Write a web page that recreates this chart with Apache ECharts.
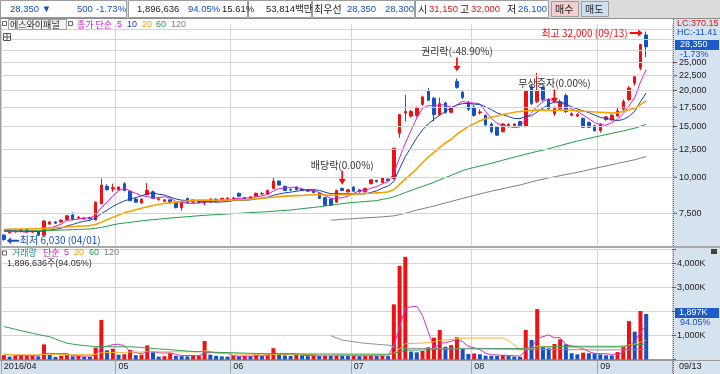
<!DOCTYPE html>
<html><head><meta charset="utf-8">
<script src="https://cdn.jsdelivr.net/npm/echarts/dist/echarts.min.js"></script>
<style>html,body{margin:0;padding:0;background:#fff}#c{width:720px;height:374px}</style>
</head><body><div id="c"></div>
<script>
// ---------- DATA ----------
const tradeDays = [
  ['2016/04', [1,4,5,6,7,8,11,12,14,15,18,19,20,21,22,25,26,27,28,29]],
  ['2016/05', [2,3,4,9,10,11,12,13,16,17,18,19,20,23,24,25,26,27,30,31]],
  ['2016/06', [1,2,3,7,8,9,10,13,14,15,16,17,20,21,22,23,24,27,28,29,30]],
  ['2016/07', [1,4,5,6,7,8,11,12,13,14,15,18,19,20,21,22,25,26,27,28,29]],
  ['2016/08', [1,2,3,4,5,8,9,10,11,12,16,17,18,19,22,23,24,25,26,29,30,31]],
  ['2016/09', [1,2,5,6,7,8,9,12,13]]
];
const opens = [6300,6420,6480,6500,6600,6450,6480,6300,6880,7000, 7000,7120,7400,7220,7180,7250,7110,8100,9300,9100,
 9050,9500,8950,8400,8150,8700,8900,8380,8250,8350, 8150,7850,8450,8200,8300,8150,8200,8400,8350,8420,
 8400,8800,8500,8400,8600,8750,8750,9150,9700,9300, 9080,9250,9100,9050,9000,8800,8500,8400,8200,9150,
 8900,9250,9050,8900,9500,9750,9600,9850,9900,14200, 16700,16300,16400,17900,20000,18800,16500,18100,16800,21500,
 19700,18100,17500,16750,16400,15300,14900,14400,14950,15100, 15600,15000,20600,18300,20500,18600,16600,17300,19200,16400,
 16300,16000,15500,15100,14500,15850,15800,16300,17200,18600, 21200,23900,31150];
const highs = [6350,6650,6560,6620,6650,6560,6500,7110,7050,7050, 7150,7400,7550,7350,7280,7300,8250,9900,9450,9500,
 9300,9600,9000,8500,8450,9550,9000,8550,8400,8400, 8200,8200,8500,8350,8350,8350,8450,8450,8500,8550,
 8550,8850,8550,8600,8850,8900,9050,10000,9750,9350, 9150,9300,9150,9100,9050,8850,8550,8450,9050,9200,
 9100,9300,9100,9200,9850,9800,10000,9900,12650,16600, 19300,17100,17600,19200,20400,19000,18900,18300,17600,22000,
 20000,18400,17800,17200,16500,15500,15000,15400,15400,15400, 15700,20000,21000,23000,20700,18700,17600,18600,19500,16800,
 16700,16100,15600,15200,15400,16300,16600,17500,18600,20700, 22500,29000,32000];
const lows = [6030,6380,6420,6450,6450,6420,6250,6280,6830,6900, 6950,7080,7100,7150,7120,7150,7100,8050,9000,8900,
 9000,8950,8250,8150,8100,8650,8400,8300,8200,8100, 7800,7650,8100,8150,8150,8000,8150,8200,8300,8380,
 8350,8550,8300,8350,8550,8700,8700,9100,9350,8950, 8950,9000,8950,8900,8800,8400,7950,7950,8150,8950,
 8850,8900,8850,8850,9450,9600,9550,9700,9850,13700, 15600,16100,16200,17700,18400,15600,16300,16600,16700,20300,
 18700,17000,16200,16500,15000,14200,13900,14300,14900,15000, 14900,14900,17800,18100,18300,17100,16300,17200,16700,16300,
 16200,14800,14800,14400,14300,15700,15700,16200,17000,18400, 20800,23500,26100];
const closes = [6080,6560,6520,6580,6480,6520,6300,7050,7000,6930, 7100,7350,7150,7260,7220,7180,8200,9400,9050,9200,
 9250,9000,8300,8200,8400,9000,8450,8420,8350,8150, 7850,8150,8150,8300,8180,8200,8400,8250,8450,8460,
 8480,8600,8350,8550,8800,8790,9000,9700,9400,9000, 9030,9050,9000,8950,8850,8450,8000,8000,9000,9000,
 9050,8950,8900,9150,9800,9650,9950,9750,12600,16500, 16900,16900,17400,19000,18500,16500,18000,16800,17400,20500,
 18900,17200,16400,16850,15200,14400,14000,15300,15250,15300, 15000,19900,18000,19900,18600,17300,17300,18300,16900,16600,
 16500,14900,14900,14500,15300,16200,16400,17000,18300,20400, 22300,28850,28350];
const ma5 = [6500,6480,6470,6480,6440,6530,6480,6590,6670,6760, 6880,7090,7120,7170,7220,7230,7400,7850,8210,8610,
 8980,9180,8960,8790,8630,8580,8470,8500,8560,8470, 8240,8190,8130,8120,8130,8200,8250,8270,8300,8350,
 8410,8450,8470,8490,8560,8620,8710,8970,9140,9180, 9230,9240,9100,9010,8980,8860,8650,8450,8470,8490,
 8610,8800,8980,9010,9170,9290,9490,9660,10350,11690, 13140,14530,16060,17340,17740,17660,17880,17760,17440,17840,
 18320,18160,18080,17970,16910,16010,15370,15150,15040,14860, 14970,15950,16690,17620,18280,18740,18220,18280,17680,17280,
 16920,16440,15960,15480,15220,15160,15460,15880,16640,17660, 18880,21370,23640];
const ma10 = [6550,6530,6510,6500,6490,6490,6480,6530,6560,6600, 6660,6780,6860,6960,7040,7090,7240,7480,7690,7920,
 8110,8280,8400,8500,8620,8780,8830,8730,8680,8540, 8410,8330,8310,8340,8300,8220,8220,8200,8210,8240,
 8300,8320,8320,8350,8410,8470,8530,8660,8760,8830, 8880,8940,9010,9050,9060,9010,8880,8770,8770,8770,
 8770,8760,8750,8760,8860,8970,9170,9320,9680,10700, 11800,12700,13700,14600,15300,15900,16400,16910,17400,17800,
 18000,18030,17930,17870,17540,17160,16710,16480,16250,15990, 15970,16260,16340,16850,17360,17900,18240,18230,17950,17560,
 17250,16990,16760,16440,16140,15990,15860,15720,15860,16260, 16960,18280,19600];
const ma20 = [6600,6600,6610,6620,6620,6630,6630,6650,6670,6690, 6700,6720,6740,6760,6780,6800,6860,6990,7120,7260,
 7400,7530,7620,7720,7810,7900,7980,8050,8110,8170, 8200,8240,8270,8300,8330,8330,8330,8330,8340,8340,
 8340,8350,8350,8390,8420,8460,8490,8530,8570,8600, 8620,8640,8650,8680,8700,8700,8680,8660,8680,8700,
 8720,8740,8760,8780,8800,8830,8860,8900,9050,9450, 9850,10250,10700,11250,11750,12200,12700,13150,13550,14100,
 14550,15000,15350,15700,15950,16150,16300,16500,16650,16800, 16900,17000,17050,17100,17100,17050,17050,17100,17100,17050,
 17000,16950,16900,16850,16800,16750,16700,16750,16900,17100, 17400,17850,18400];
const ma60 = [6500,6505,6510,6512,6516,6520,6528,6536,6544,6552, 6560,6572,6584,6596,6608,6620,6660,6700,6770,6840,
 6900,6940,6980,7020,7060,7100,7130,7160,7190,7220, 7250,7275,7300,7330,7355,7380,7400,7420,7440,7460,
 7480,7500,7520,7540,7560,7580,7600,7625,7650,7675, 7700,7740,7780,7820,7860,7900,7950,8000,8050,8100,
 8150,8180,8210,8240,8270,8300,8380,8450,8560,8700, 8850,9000,9150,9300,9450,9600,9800,9980,10150,10350,
 10550,10700,10820,10940,11060,11180,11320,11460,11600,11740, 11880,12020,12160,12300,12420,12560,12720,12880,13040,13200,
 13360,13500,13640,13780,13920,14060,14200,14340,14480,14640, 14800,15020,15250];
const ma120 = Array(57).fill(null).concat([7100,7120,7145,
 7170,7190,7210,7230,7250,7270,7295,7320,7350,7420, 7500,7600,7700,7780,7860,7950,8050,8150,8250,8350,
 8450,8550,8650,8750,8850,8950,9040,9130,9220,9310, 9400,9520,9640,9750,9850,9950,10040,10130,10220,10310,
 10400,10510,10620,10730,10840,10950,11060,11170,11280,11390, 11500,11650,11800]);
// volume in thousand shares
const volumes = [180,120,150,160,165,170,130,630,190,110, 160,180,130,150,120,110,500,1650,380,450,
 200,220,400,180,200,590,300,120,140,260, 150,140,130,150,170,770,200,150,130,120,
 160,130,150,140,180,150,215,470,200,170, 150,190,170,140,160,150,180,160,190,160,
 150,170,140,160,180,150,170,140,2300,3900, 4280,330,300,355,510,910,1230,530,600,925,
 440,230,250,220,160,155,150,190,150,120, 110,1230,810,2100,510,465,645,840,630,260,
 215,285,260,250,215,175,170,310,530,1600, 1160,2020,1896.636];
const vma5 = [230,200,180,160,155,153,155,251,257,246, 244,254,154,146,148,138,202,506,552,618,
 636,580,330,290,240,318,334,278,270,282, 212,162,164,166,148,272,284,288,284,274,
 152,138,140,140,152,150,167,231,243,241, 241,236,176,164,162,156,160,158,168,168,
 168,166,162,156,160,160,160,158,588,1332, 2158,2190,2222,1833,1155,481,661,707,757,839,
 745,545,489,413,260,203,187,175,169,153, 144,360,484,874,952,1023,906,912,618,568,
 518,446,330,254,245,237,214,224,280,557, 754,1124,1441];
const vma20 = [210,205,200,200,198,196,194,215,216,212, 210,210,208,206,204,200,215,280,290,292,
 293,298,310,311,313,334,343,318,316,323, 322,320,320,320,322,355,340,265,253,236,
 234,230,218,216,215,193,189,206,209,204, 204,207,209,208,207,176,175,175,178,180,
 180,182,182,183,183,183,181,164,269,456, 662,669,676,686,703,741,794,812,833,871,
 886,889,893,896,895,896,895,897,789,600, 392,437,462,549,549,527,541,537,530,497,
 486,489,494,497,500,501,502,508,527,601, 643,735,804];
const vma60 = [1370,1320,1260,1200,1150,1090,1040,990,950,850, 760,680,640,610,580,560,540,535,532,530,
 530,530,530,520,500,480,460,440,425,410, 390,370,350,335,325,318,310,300,292,285,
 280,272,265,258,252,246,242,240,238,236, 235,234,233,232,231,230,229,228,227,226,
 225,224,223,222,222,221,220,218,255,318, 388,390,392,395,400,412,430,436,443,455,
 460,461,462,462,461,460,459,459,458,457, 455,472,483,515,520,525,533,544,551,552,
 552,553,553,553,552,551,550,552,557,580, 596,625,655];
const vma120 = Array(57).fill(null).concat([990,900,810,
 775,740,705,675,655,635,615,600,530,470, 465,463,461,459,457,455,453,451,449,447,
 445,443,441,440,438,436,434,432,430,428, 426,424,422,420,418,416,414,412,410,408,
 406,404,402,400,400,400,400,400,402,405, 408,412,416]);
const priceTicks = [7500,10000,12500,15000,17500,20000,22500,25000,27500,30000,32500];

// ---------- BUILD ----------
const dates = [];
tradeDays.forEach(([m, ds]) => ds.forEach(d => dates.push(m + '/' + String(d).padStart(2, '0'))));
const cats = dates.concat(['pad1', 'pad2', 'pad3', 'pad4']);
const monthStarts = [];
dates.forEach((d, i) => { if (i === 0 || d.slice(0, 7) !== dates[i - 1].slice(0, 7)) monthStarts.push(i); });
const isMonthStart = (i) => monthStarts.indexOf(i) >= 0;

const RED = '#ee1111', BLUE = '#1450c8';
const FN = '"Liberation Sans","Noto Sans CJK KR",sans-serif';
const FK = '"Noto Sans CJK KR","Liberation Sans",sans-serif';
const fmt = v => Number(v).toLocaleString('en-US');

const candleData = opens.map((o, i) => [o, closes[i], lows[i], highs[i]]);
const volData = volumes.map((v, i) => ({
  value: v,
  itemStyle: { color: (i === 0 || v >= volumes[i - 1]) ? RED : BLUE }
}));

const DOWN = 'path://M3,0L5,0L5,9L8,9L4,15L0,9L3,9Z';
const RIGHTA = 'path://M0,2.5L9,2.5L9,0L14,3.5L9,7L9,4.5L0,4.5Z';
const LEFTA = 'path://M14,2.5L5,2.5L5,0L0,3.5L5,7L5,4.5L14,4.5Z';

function T(x, y, text, fill, size, family) {
  return { type: 'text', x: x, y: y, silent: true, z: 100,
    style: { text: text, fill: fill, font: (size || 9) + 'px ' + (family || FN),
      textAlign: 'left', textVerticalAlign: 'middle', align: 'left', verticalAlign: 'middle' } };
}
function R(x, y, w, h, fill, stroke, z) {
  return { type: 'rect', silent: true, z: (z == null ? -10 : z), shape: { x: x, y: y, width: w, height: h },
    style: { fill: fill, stroke: stroke || null, lineWidth: 1 } };
}
function L(x1, y1, x2, y2, stroke, dash, z) {
  return { type: 'line', silent: true, z: (z == null ? 5 : z), shape: { x1: x1, y1: y1, x2: x2, y2: y2 },
    style: { stroke: stroke, lineWidth: 1, lineDash: dash || null } };
}

const TB = 9.5;
const graphics = [
  // toolbar
  R(0, 0, 720, 18, '#dcdcdc', null, -10),
  R(0.5, 0.5, 126, 17, '#fff', '#9c9c9c', -9),
  R(128.5, 0.5, 119, 17, '#fff', '#9c9c9c', -9),
  R(248.5, 0.5, 63, 17, '#fff', '#9c9c9c', -9),
  R(312.5, 0.5, 102, 17, '#fff', '#9c9c9c', -9),
  R(415.5, 0.5, 133, 17, '#fff', '#9c9c9c', -9),
  R(551.5, 1.5, 27, 15, '#f5cfcf', '#9c9c9c', -9),
  R(581.5, 1.5, 27, 15, '#cfdff3', '#9c9c9c', -9),
  L(0, 18.5, 720, 18.5, '#8c8c8c', null, 6),
  T(10, 9, '28,350 ▼', BLUE, TB), 
  T(77, 9, '500', BLUE, TB), T(96, 9, '-1.73%', BLUE, TB),
  T(137, 9, '1,896,636', '#222', TB), T(188, 9, '94.05%', BLUE, TB), T(222, 9, '15.61%', '#222', TB),
  T(266, 9, '53,814백만', '#222', TB),
  T(314, 9, '최우선', '#222', 10, FK), T(347, 9, '28,350', BLUE, TB), T(385, 9, '28,300', BLUE, TB),
  T(418, 9, '시', '#222', 10, FK), T(429, 9, '31,150', RED, TB),
  T(460, 9, '고', '#222', 10, FK), T(471, 9, '32,000', RED, TB),
  T(507, 9, '저', '#222', 10, FK), T(518, 9, '26,100', BLUE, TB),
  T(555, 9, '매수', '#222', 10, FK), T(585, 9, '매도', '#222', 10, FK),
  // right panel & strip backgrounds
  R(673, 19, 47, 341, '#d6e2ee', null, -10),
  R(0, 360, 720, 14, '#d6e2ee', null, -10),
  L(673.5, 19, 673.5, 374, '#666', [1, 1], 6),
  R(0, 246, 720, 2, '#a9a9a9', null, 50),
  L(0, 360.5, 720, 360.5, '#9a9a9a', null, 6),
  L(0.5, 19, 0.5, 360, '#9a9a9a', null, 6),
  // price header
  R(2.5, 21.5, 4, 4, '#fff', '#666', 90),
  R(8.5, 19.5, 58, 10, '#f3f3f3', '#a0a0a0', 90),
  T(10, 24.5, '에스와이패널', '#222', 9, FK),
  R(68.5, 21.5, 4, 4, '#fff', '#666', 90),
  T(77, 24.5, '종가 단순', '#d018c0', 9, FK),
  T(117, 24.5, '5', '#d018c0', 9), T(127, 24.5, '10', '#1c3fb0', 9),
  T(142, 24.5, '20', '#f0a000', 9), T(156, 24.5, '60', '#1e9e44', 9), T(171, 24.5, '120', '#808080', 9),
  R(3.5, 33.5, 7, 7, '#fff', '#555', 90),
  L(3.5, 37, 10.5, 37, '#555', null, 91), L(7, 33.5, 7, 40.5, '#555', null, 91),
  // right price panel texts
  T(677, 24, 'LC:370.15', RED, 9),
  T(677, 33, 'HC:-11.41', BLUE, 9),
  R(675, 40, 44, 10, '#1d5bc9', null, 95),
  T(680, 45, '28,350', '#fff', 9),
  T(680, 54.5, '-1.73%', BLUE, 9),
  // volume header
  R(2.5, 251, 4, 4, '#fff', '#666', 90),
  T(12, 253, '거래량', '#2b8c8c', 9, FK),
  T(43, 253, '단순', '#d018c0', 9, FK),
  T(64, 253, '5', '#d018c0', 9), T(74, 253, '20', '#f0a000', 9),
  T(89, 253, '60', '#1e9e44', 9), T(104, 253, '120', '#808080', 9),
  T(7, 263.5, '1,896,636주(94.05%)', '#333', 9),
  R(711, 249, 6, 5, '#444', null, 95),
  // volume box
  R(675, 308, 44, 10, '#1d5bc9', null, 95),
  T(679, 313, '1,897K', '#fff', 9),
  T(680, 322.5, '94.05%', BLUE, 9),
  // strip right
  T(679, 367, '09/13', '#222', 9)
];

const lineSeries = (name, data, color, width, xi, yi) => ({
  name: name, type: 'line', data: data, xAxisIndex: xi, yAxisIndex: yi, symbol: 'none', silent: true,
  lineStyle: { color: color, width: width }, z: 4, connectNulls: false
});

const option = {
  animation: false,
  backgroundColor: '#ffffff',
  textStyle: { fontFamily: FN },
  grid: [
    { left: 1, top: 24, width: 671, height: 221.5, outerBoundsMode: 'none', containLabel: false },
    { left: 1, top: 249.1, width: 671, height: 110.4, outerBoundsMode: 'none', containLabel: false }
  ],
  xAxis: [
    { type: 'category', gridIndex: 0, data: cats, boundaryGap: true,
      axisLine: { show: false }, axisTick: { show: false }, axisLabel: { show: false },
      splitLine: { show: true, interval: (i) => isMonthStart(i), lineStyle: { color: '#d4d4d4', width: 1 } } },
    { type: 'category', gridIndex: 1, data: cats, boundaryGap: true,
      axisLine: { show: true, lineStyle: { color: '#9a9a9a' } },
      axisTick: { show: true, interval: (i) => isMonthStart(i), length: 14, lineStyle: { color: '#a0a0a0' } },
      axisLabel: { show: true, interval: (i) => isMonthStart(i), align: 'left', margin: 3,
        fontSize: 9, color: '#222', fontFamily: FN,
        formatter: (v, i) => i === 0 ? v.slice(0, 7) : v.slice(5, 7) },
      splitLine: { show: true, interval: (i) => isMonthStart(i), lineStyle: { color: '#d4d4d4', width: 1 } } }
  ],
  yAxis: [
    { type: 'log', logBase: 10, gridIndex: 0, min: 5800, max: 34000, position: 'right',
      axisLine: { show: false }, axisTick: { show: false }, axisLabel: { show: false }, splitLine: { show: false } },
    { type: 'value', gridIndex: 1, min: 0, max: 4600, interval: 1000, position: 'right',
      axisLine: { show: false },
      axisTick: { show: true, length: 4, lineStyle: { color: '#555' } },
      axisLabel: { margin: 5, fontSize: 9, color: '#222', fontFamily: FN,
        formatter: v => (v === 0 || v === 2000 || v % 1000 !== 0) ? '' : fmt(v) + 'K' },
      splitLine: { show: true, lineStyle: { color: '#d4d4d4' } } }
  ],
  graphic: { elements: graphics },
  series: [
    { name: 'grid', type: 'line', data: closes, xAxisIndex: 0, yAxisIndex: 0, symbol: 'none', silent: true,
      lineStyle: { opacity: 0 }, z: 1,
      markLine: { silent: true, symbol: ['none', 'none'], animation: false,
        lineStyle: { color: '#d4d4d4', width: 1, type: 'solid' },
        label: { show: true, position: 'end', distance: 1,
          formatter: p => '{t|}{v|' + fmt(p.value) + '}',
          rich: { t: { width: 4, height: 1, backgroundColor: '#555' },
                  v: { padding: [0, 0, 0, 2], fontSize: 9, color: '#222', fontFamily: FN } } },
        emphasis: { disabled: true },
        data: priceTicks.map(v => ({ yAxis: v, label: { show: v <= 25000 } })) } },
    { name: 'price', type: 'candlestick', data: candleData, xAxisIndex: 0, yAxisIndex: 0, z: 3,
      barWidth: 3,
      itemStyle: { color: RED, color0: BLUE, borderColor: RED, borderColor0: BLUE, borderWidth: 1 },
      markPoint: { animation: false, silent: true,
        label: { fontFamily: FK, fontSize: 10, color: '#333' },
        data: [
          { coord: [cats[59], highs[59]], symbol: DOWN, symbolSize: [7, 14], symbolOffset: [0, -10],
            itemStyle: { color: RED }, label: { show: true, position: 'top', distance: 1, formatter: '배당락(0.00%)' } },
          { coord: [cats[79], highs[79]], symbol: DOWN, symbolSize: [7, 14], symbolOffset: [0, -14],
            itemStyle: { color: RED }, label: { show: true, position: 'top', distance: 1, formatter: '권리락(-48.90%)' } },
          { coord: [cats[96], highs[96]], symbol: DOWN, symbolSize: [7, 14], symbolOffset: [0, -10],
            itemStyle: { color: RED }, label: { show: true, position: 'top', distance: 1, formatter: '무상증자(0.00%)' } },
          { coord: [cats[112], highs[112]], symbol: RIGHTA, symbolSize: [13, 7], symbolOffset: [-10, 1.5],
            itemStyle: { color: RED }, label: { show: true, position: 'left', distance: 2, color: RED,
              formatter: '최고 ' + fmt(highs[112]) + ' (09/13)' } },
          { coord: [cats[0], lows[0]], symbol: LEFTA, symbolSize: [12, 7], symbolOffset: [9, 0],
            itemStyle: { color: BLUE }, label: { show: true, position: 'right', distance: 1, color: BLUE,
              formatter: '최저 ' + fmt(lows[0]) + ' (04/01)' } }
        ] } },
    lineSeries('MA5', ma5, '#dd1ecc', 1, 0, 0),
    lineSeries('MA10', ma10, '#1c3fb0', 1, 0, 0),
    lineSeries('MA20', ma20, '#f3a200', 1.6, 0, 0),
    lineSeries('MA60', ma60, '#1e9e44', 1, 0, 0),
    lineSeries('MA120', ma120, '#7f7f7f', 1, 0, 0),
    { name: 'volume', type: 'bar', data: volData, xAxisIndex: 1, yAxisIndex: 1, barWidth: 4, z: 3, silent: true },
    lineSeries('VMA5', vma5, '#d030c8', 1, 1, 1),
    lineSeries('VMA20', vma20, '#f5b330', 1, 1, 1),
    lineSeries('VMA60', vma60, '#30a050', 1, 1, 1),
    lineSeries('VMA120', vma120, '#909090', 1, 1, 1)
  ]
};
const chart = echarts.init(document.getElementById('c'), null, { renderer: 'canvas' });
chart.setOption(option);
</script>
</body></html>
